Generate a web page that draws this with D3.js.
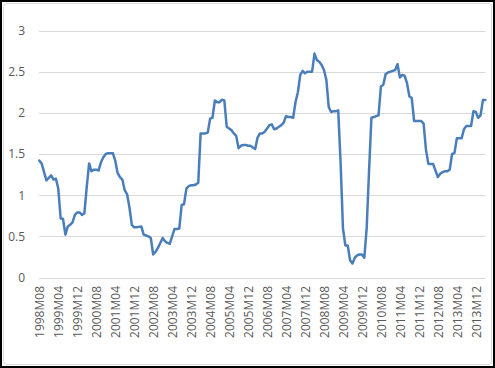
<!DOCTYPE html>
<html>
<head>
<meta charset="utf-8">
<script src="https://cdn.jsdelivr.net/npm/d3@7"></script>
<style>
  body { margin: 0; background: #fff; }
  svg { display: block; }
  .axis text { font-family: "Open Sans", sans-serif; font-size: 12px; fill: #595959; }
  .axis path, .axis line { display: none; }
</style>
</head>
<body>
<svg id="chart" width="495" height="368"></svg>
<script>
// monthly series, 1998M08 .. 2014M04
const startYear = 1998
const startMonth = 8
const values = [
  1.42, 1.385, 1.28, 1.18, 1.21, 1.24, 1.19, 1.20, 1.08, 0.72,
  0.71, 0.52, 0.62, 0.64, 0.67, 0.76, 0.79, 0.79, 0.76, 0.78,
  1.10, 1.385, 1.29, 1.31, 1.31, 1.30, 1.40, 1.46, 1.50, 1.51,
  1.51, 1.51, 1.42, 1.27, 1.22, 1.19, 1.06, 1.01, 0.85, 0.64,
  0.61, 0.61, 0.615, 0.62, 0.52, 0.51, 0.50, 0.48, 0.28, 0.31,
  0.36, 0.42, 0.48, 0.44, 0.42, 0.41, 0.50, 0.59, 0.59, 0.595,
  0.88, 0.89, 1.08, 1.11, 1.12, 1.12, 1.13, 1.15, 1.75, 1.75,
  1.75, 1.76, 1.93, 1.94, 2.15, 2.13, 2.13, 2.16, 2.15, 1.83,
  1.81, 1.79, 1.75, 1.72, 1.57, 1.60, 1.61, 1.61, 1.60, 1.60,
  1.58, 1.56, 1.70, 1.75, 1.75, 1.77, 1.81, 1.85, 1.86, 1.80,
  1.81, 1.83, 1.85, 1.88, 1.96, 1.95, 1.95, 1.94, 2.13, 2.25,
  2.46, 2.51, 2.48, 2.50, 2.50, 2.50, 2.72, 2.64, 2.62, 2.58,
  2.52, 2.40, 2.07, 2.01, 2.02, 2.02, 2.03, 1.40, 0.60, 0.39,
  0.39, 0.21, 0.17, 0.24, 0.27, 0.28, 0.28, 0.24, 0.60, 1.30,
  1.94, 1.95, 1.96, 1.97, 2.32, 2.34, 2.47, 2.49, 2.50, 2.51,
  2.52, 2.59, 2.43, 2.46, 2.45, 2.36, 2.20, 2.18, 1.90, 1.90,
  1.90, 1.90, 1.87, 1.55, 1.38, 1.38, 1.38, 1.30, 1.22, 1.26,
  1.28, 1.29, 1.29, 1.31, 1.50, 1.51, 1.69, 1.69, 1.69, 1.80,
  1.84, 1.84, 1.84, 2.02, 2.01, 1.94, 1.97, 2.155, 2.155
]
const tickLabels = [
  '1998M08', '1999M04', '1999M12', '2000M08', '2001M04', '2001M12',
  '2002M08', '2003M04', '2003M12', '2004M08', '2005M04', '2005M12',
  '2006M08', '2007M04', '2007M12', '2008M08', '2009M04', '2009M12',
  '2010M08', '2011M04', '2011M12', '2012M08', '2013M04', '2013M12'
]
const yTicks = [0, 0.5, 1, 1.5, 2, 2.5, 3]

const months = values.map((v, i) => {
  const m = startMonth - 1 + i
  const yr = startYear + Math.floor(m / 12)
  const mo = (m % 12) + 1
  return `${yr}M${String(mo).padStart(2, '0')}`
})
const data = months.map((m, i) => ({ month: m, value: values[i] }))

const svg = d3.select('#chart')

// frame
svg.append('rect')
  .attr('x', 1).attr('y', 1).attr('width', 493).attr('height', 366)
  .attr('fill', '#fff').attr('stroke', '#000').attr('stroke-width', 2)
svg.append('rect')
  .attr('x', 3.5).attr('y', 3.5).attr('width', 488).attr('height', 361)
  .attr('rx', 3)
  .attr('fill', 'none').attr('stroke', '#d9d9d9').attr('stroke-width', 1)

const xscale = d3.scalePoint()
  .domain(months)
  .range([39.3, 485.3])

const yscale = d3.scaleLinear()
  .domain([0, 3])
  .range([277.5, 30.5])

// gridlines
svg.append('g')
  .selectAll('line')
  .data(yTicks)
  .enter()
  .append('line')
  .attr('x1', 39)
  .attr('x2', 485.5)
  .attr('y1', d => Math.round(yscale(d)) + 0.5)
  .attr('y2', d => Math.round(yscale(d)) + 0.5)
  .attr('stroke', '#d9d9d9')
  .attr('stroke-width', 1)

const yAxis = d3.axisLeft(yscale)
  .tickValues(yTicks)
  .tickFormat(d => String(d))
  .tickSize(0)
  .tickPadding(0)
svg.append('g')
  .attr('class', 'axis')
  .attr('transform', 'translate(25, 0)')
  .call(yAxis)

const xAxis = d3.axisBottom(xscale)
  .tickValues(tickLabels)
  .tickSize(0)
svg.append('g')
  .attr('class', 'axis')
  .attr('transform', 'translate(0, 286)')
  .call(xAxis)
  .selectAll('text')
  .attr('transform', 'rotate(-90)')
  .attr('text-anchor', 'end')
  .attr('x', 0)
  .attr('y', 0)
  .attr('dx', 0)
  .attr('dy', '0.35em')

const line = d3.line()
  .x(d => xscale(d.month))
  .y(d => yscale(d.value))

svg.append('path')
  .datum(data)
  .attr('d', line)
  .attr('fill', 'none')
  .attr('stroke', '#4a7ebb')
  .attr('stroke-width', 2.5)
  .attr('stroke-linejoin', 'round')
  .attr('stroke-linecap', 'round')
</script>
</body>
</html>
